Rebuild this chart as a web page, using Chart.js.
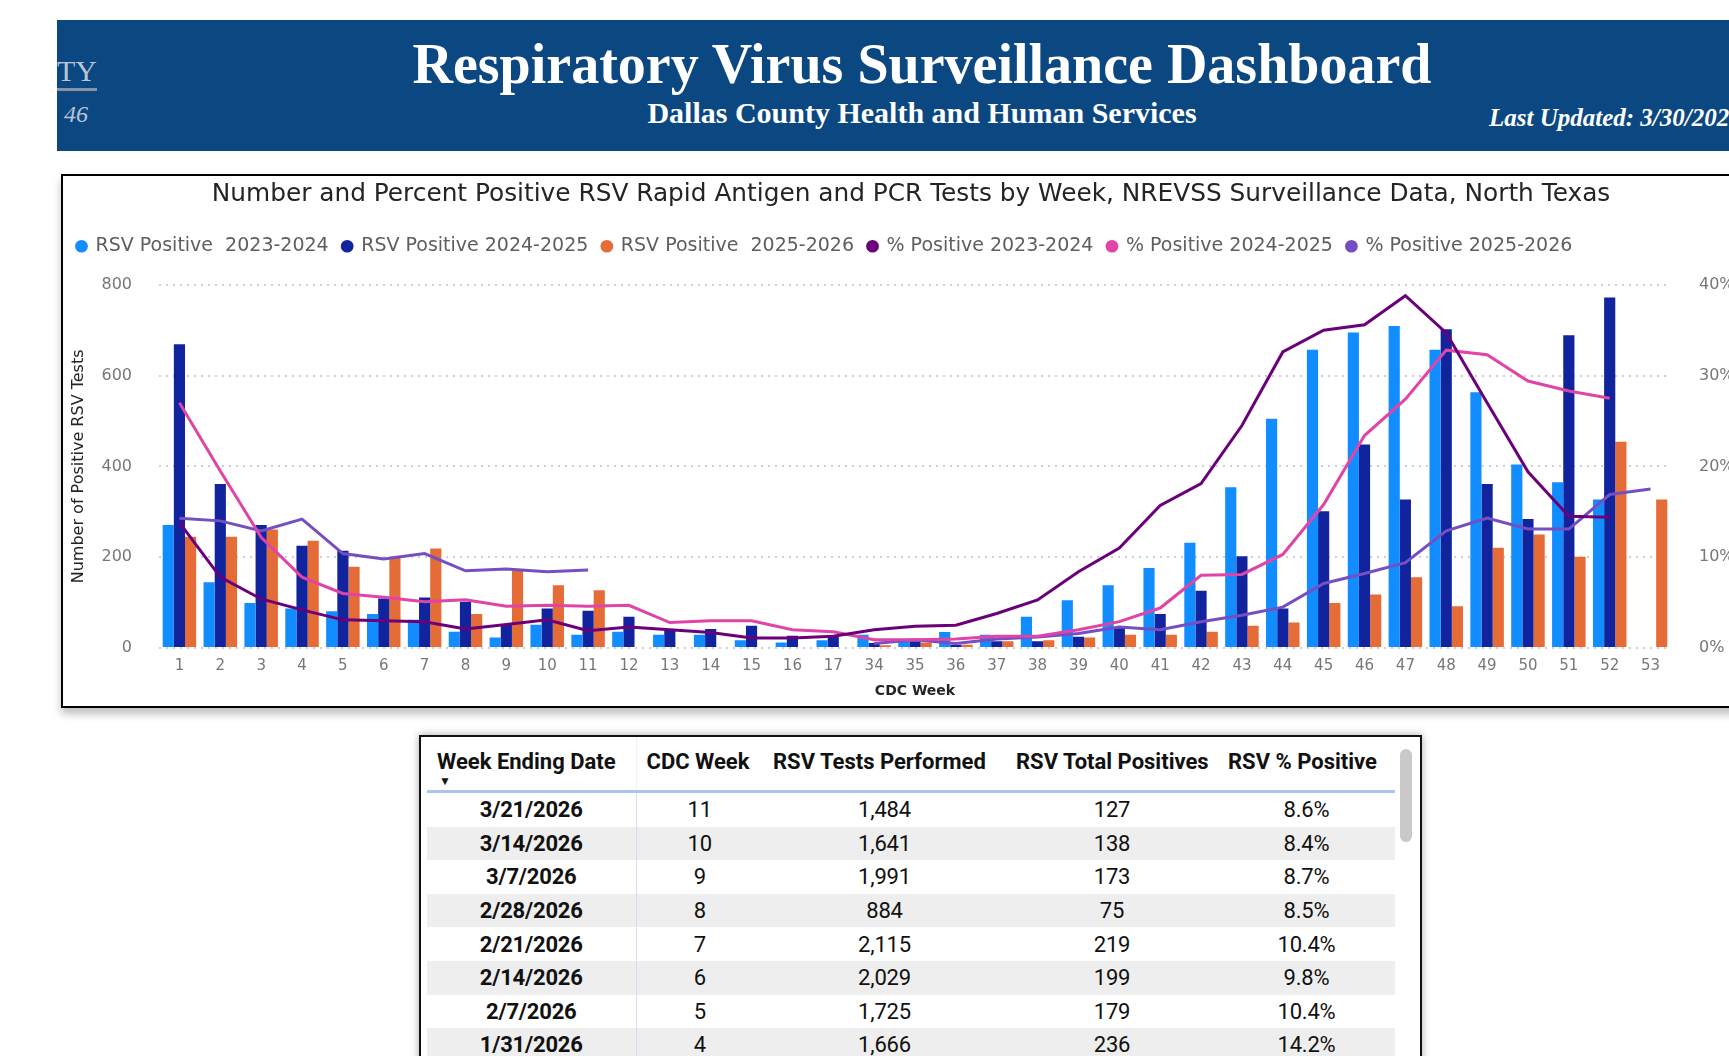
<!DOCTYPE html>
<html>
<head>
<meta charset="utf-8">
<title>Respiratory Virus Surveillance Dashboard</title>
<script src="https://cdn.jsdelivr.net/npm/chart.js@4.4.0/dist/chart.umd.min.js"></script>
<style>
    html, body { margin: 0; padding: 0; width: 1729px; height: 1056px; overflow: hidden; background: #fff; }
    body { position: relative; font-family: 'DejaVu Sans', sans-serif; }
    .banner { position: absolute; left: 57px; top: 20px; width: 1700px; height: 131px; background: #0b4781; overflow: hidden; }
    .banner div { position: absolute; white-space: nowrap; font-family: 'Liberation Serif', serif; color: #fff; }
    .b-title { left: 0; width: 1730px; top: 14px; text-align: center; font-size: 56px; line-height: 60px; font-weight: bold; }
    .b-sub { left: 0; width: 1730px; top: 77px; text-align: center; font-size: 30px; line-height: 32px; font-weight: bold; }
    .b-upd { left: 1432px; top: 84px; font-size: 25px; line-height: 28px; font-weight: bold; font-style: italic; }
    .b-ty { left: -60px; width: 100px; top: 34px; text-align: right; font-size: 30px; line-height: 34px; color: #b9c5d6 !important; }
    .b-rule { left: 0; top: 68px; width: 40px; height: 3px; background: #8794a6; }
    .b-46 { left: -60px; width: 91px; top: 80px; text-align: right; font-size: 24px; line-height: 28px; font-style: italic; color: #b9c5d6 !important; }
    .chartBox { position: absolute; left: 61px; top: 174px; width: 1700px; height: 534px; box-sizing: border-box; border: 2px solid #000; background: #fff; box-shadow: 0 6px 8px rgba(0,0,0,0.25); }
    .chartBox .inner { position: absolute; left: 0; top: 0; width: 1696px; height: 530px; }
    .tableBox { position: absolute; left: 419px; top: 735px; width: 1003px; height: 400px; box-sizing: border-box; border: 2px solid #111; background: #fff; box-shadow: 0 0 8px rgba(0,0,0,0.35); }
    table { position: absolute; left: 6px; top: 0; border-collapse: collapse; table-layout: fixed; font-family: Roboto, sans-serif; color: #111; }
    th { height: 53px; padding: 0 0 0 10px; text-align: left; vertical-align: top; font-size: 22px; font-weight: bold; letter-spacing: 0; border-bottom: 3px solid #a9c5f2; position: relative; white-space: nowrap; }
    th span { display: block; margin-top: 13px; line-height: 24px; }
    th .arrow { position: absolute; left: 12px; top: 37px; font-size: 12px; letter-spacing: 0; }
    td { height: 33.6px; padding: 0; text-align: center; font-size: 22px; letter-spacing: -0.2px; }
    td.c1 { font-weight: bold; border-right: 1px solid #d3def0; }
    th.c1 { border-right: 1px solid #eef2f8; }
    tr.alt td { background: #eeeeee; }
    .scroll { position: absolute; left: 979px; top: 12px; width: 12px; height: 93px; border-radius: 6px; background: #c9c9c9; }
</style>
</head>
<body>
<div class="banner">
    <div class="b-ty">TY</div>
    <div class="b-rule"></div>
    <div class="b-46">46</div>
    <div class="b-title">Respiratory Virus Surveillance Dashboard</div>
    <div class="b-sub">Dallas County Health and Human Services</div>
    <div class="b-upd">Last Updated: 3/30/2026</div>
</div>

<div class="chartBox"><div class="inner"><canvas id="rsvChart"></canvas></div></div>

<div class="tableBox">
    <table id="rsvTable"></table>
    <div class="scroll"></div>
</div>

<script>
// CDC weeks on the axis (weeks 18-33 are not shown)
var weeks = ['1', '2', '3', '4', '5', '6', '7', '8', '9', '10', '11', '12', '13', '14', '15', '16', '17',
    '34', '35', '36', '37', '38', '39', '40', '41', '42', '43', '44', '45', '46', '47', '48', '49', '50', '51', '52', '53'];

// number of positive tests
var pos2324 = [271, 145, 99, 87, 81, 75, 62, 36, 23, 51, 29, 36, 29, 29, 17, 12, 17,
    29, 18, 35, 29, 69, 105, 138, 176, 232, 354, 505, 657, 695, 709, 657, 563, 404, 365, 327, null];
var pos2425 = [669, 361, 271, 225, 214, 109, 111, 102, 51, 87, 82, 69, 40, 42, 49, 27, 24,
    11, 15, 7, 15, 15, 25, 44, 75, 126, 202, 87, 301, 448, 327, 702, 361, 284, 689, 772, null];
var pos2526 = [245, 245, 261, 236, 179, 199, 219, 75, 173, 138, 127, null, null, null, null, null, null,
    6, 12, 7, 15, 17, 23, 29, 29, 36, 49, 56, 99, 118, 156, 92, 221, 250, 201, 454, 327];

// percent positive
var pct2324 = [13.8, 7.8, 5.4, 4.2, 3.1, 3.0, 2.9, 2.1, 2.6, 3.1, 1.9, 2.3, 2.0, 1.7, 1.1, 1.1, 1.3,
    2.0, 2.4, 2.5, 3.8, 5.3, 8.4, 11.0, 15.7, 18.1, 24.5, 32.6, 35.0, 35.6, 38.8, 34.7, 27.0, 19.4, 14.5, 14.4, null];
var pct2425 = [27.0, 19.5, 12.2, 7.8, 6.0, 5.6, 5.1, 5.3, 4.6, 4.7, 4.6, 4.7, 2.8, 3.0, 3.0, 2.0, 1.8,
    0.9, 0.9, 1.0, 1.3, 1.3, 2.0, 2.9, 4.4, 8.0, 8.1, 10.3, 15.8, 23.4, 27.4, 32.8, 32.3, 29.4, 28.3, 27.5, null];
var pct2526 = [14.3, 14.0, 12.9, 14.2, 10.4, 9.8, 10.4, 8.5, 8.7, 8.4, 8.6, null, null, null, null, null, null,
    0.5, 0.9, 0.5, 1.0, 1.2, 1.6, 2.3, 2.0, 2.9, 3.6, 4.5, 7.1, 8.2, 9.4, 12.9, 14.3, 13.1, 13.1, 16.9, 17.5];

var countTicks = [0, 200, 400, 600, 800];
var pctTicks = [0, 10, 20, 30, 40];

// table rows
var tblDates = ['3/21/2026', '3/14/2026', '3/7/2026', '2/28/2026', '2/21/2026', '2/14/2026', '2/7/2026', '1/31/2026'];
var tblWeeks = ['11', '10', '9', '8', '7', '6', '5', '4'];
var tblTests = ['1,484', '1,641', '1,991', '884', '2,115', '2,029', '1,725', '1,666'];
var tblPositives = ['127', '138', '173', '75', '219', '199', '179', '236'];
var tblPercent = ['8.6%', '8.4%', '8.7%', '8.5%', '10.4%', '9.8%', '10.4%', '14.2%'];
var tblHeaders = ['Week Ending Date', 'CDC Week', 'RSV Tests Performed', 'RSV Total Positives', 'RSV % Positive'];
var tblWidths = [209, 127, 243, 212, 177];

function buildTable() {
    var t = document.getElementById('rsvTable');
    var html = '<colgroup>';
    for (var i = 0; i < tblWidths.length; i++) html += '<col style="width:' + tblWidths[i] + 'px">';
    html += '</colgroup><tr>';
    for (var i = 0; i < tblHeaders.length; i++) {
        html += '<th' + (i === 0 ? ' class="c1"' : '') + '><span>' + tblHeaders[i] + '</span>' + (i === 0 ? '<div class="arrow">&#9660;</div>' : '') + '</th>';
    }
    html += '</tr>';
    for (var r = 0; r < tblDates.length; r++) {
        html += '<tr' + (r % 2 === 1 ? ' class="alt"' : '') + '>';
        html += '<td class="c1">' + tblDates[r] + '</td><td>' + tblWeeks[r] + '</td><td>' + tblTests[r] + '</td><td>' + tblPositives[r] + '</td><td>' + tblPercent[r] + '</td>';
        html += '</tr>';
    }
    t.innerHTML = html;
}

function barSet(label, data, color) {
    return { type: 'bar', label: label, data: data, backgroundColor: color, borderWidth: 0,
        yAxisID: 'y', order: 2, barPercentage: 1.0, categoryPercentage: 0.82 };
}
function lineSet(label, data, color) {
    return { type: 'line', label: label, data: data, borderColor: color, backgroundColor: color,
        borderWidth: 3, pointRadius: 0, tension: 0, yAxisID: 'y1', order: 1, spanGaps: false };
}

// leave a gap under the legend, like the dashboard does
var legendGap = {
    id: 'legendGap',
    beforeInit: function(chart) {
        var fit = chart.legend.fit;
        chart.legend.fit = function() {
            fit.call(this);
            this.height += 19;
        };
    }
};

function renderChart() {
    var ctx = document.getElementById('rsvChart');
    new Chart(ctx, {
        data: {
            labels: weeks,
            datasets: [
                barSet('RSV Positive  2023-2024', pos2324, '#118dff'),
                barSet('RSV Positive 2024-2025', pos2425, '#12239e'),
                barSet('RSV Positive  2025-2026', pos2526, '#e66c37'),
                lineSet('% Positive 2023-2024', pct2324, '#6b007b'),
                lineSet('% Positive 2024-2025', pct2425, '#e044a7'),
                lineSet('% Positive 2025-2026', pct2526, '#744ec2')
            ]
        },
        plugins: [legendGap],
        options: {
            responsive: true,
            maintainAspectRatio: false,
            animation: false,
            layout: { padding: 0 },
            plugins: {
                title: {
                    display: true,
                    text: 'Number and Percent Positive RSV Rapid Antigen and PCR Tests by Week, NREVSS Surveillance Data, North Texas',
                    color: '#252423',
                    font: { family: 'DejaVu Sans', size: 24.8, weight: 'normal' },
                    padding: { top: 4, bottom: 13 }
                },
                legend: {
                    position: 'top',
                    align: 'start',
                    labels: {
                        usePointStyle: true,
                        pointStyle: 'circle',
                        boxWidth: 9,
                        boxHeight: 9,
                        padding: 14,
                        color: '#605e5c',
                        font: { family: 'DejaVu Sans', size: 19 },
                        sort: function(a, b) { return a.datasetIndex - b.datasetIndex; },
                        generateLabels: function(chart) {
                            var items = Chart.defaults.plugins.legend.labels.generateLabels(chart);
                            items.forEach(function(it) { it.lineWidth = 0; it.strokeStyle = it.fillStyle; });
                            return items;
                        }
                    }
                },
                tooltip: { enabled: false }
            },
            scales: {
                x: {
                    grid: { display: false, drawTicks: false },
                    border: { display: false },
                    ticks: { color: '#777', font: { family: 'DejaVu Sans', size: 15 }, padding: 9, autoSkip: false, maxRotation: 0 },
                    title: { display: true, text: 'CDC Week', color: '#252423', font: { family: 'DejaVu Sans', size: 14, weight: 'bold' }, padding: { top: 2, bottom: 6 } },
                    afterFit: function(s) { s.height = 58; }
                },
                y: {
                    position: 'left',
                    min: 0, max: 800,
                    afterBuildTicks: function(s) { s.ticks = countTicks.map(function(v) { return { value: v }; }); },
                    grid: { color: '#cfcfcf', lineWidth: 2, drawTicks: false },
                    border: { display: false, dash: [2, 5] },
                    ticks: { color: '#777', font: { family: 'DejaVu Sans', size: 16 }, padding: 27 },
                    title: { display: true, text: 'Number of Positive RSV Tests', color: '#252423', font: { family: 'DejaVu Sans', size: 16 }, padding: { top: 6, bottom: 0 } },
                    afterFit: function(s) { s.width = 96; }
                },
                y1: {
                    position: 'right',
                    min: 0, max: 40,
                    afterBuildTicks: function(s) { s.ticks = pctTicks.map(function(v) { return { value: v }; }); },
                    grid: { display: false, drawTicks: false, drawOnChartArea: false },
                    border: { display: false },
                    ticks: { color: '#777', font: { family: 'DejaVu Sans', size: 16 }, padding: 28, callback: function(v) { return v + '%'; } },
                    afterFit: function(s) { s.width = 88; }
                }
            }
        }
    });
}

buildTable();
renderChart();
</script>
</body>
</html>
